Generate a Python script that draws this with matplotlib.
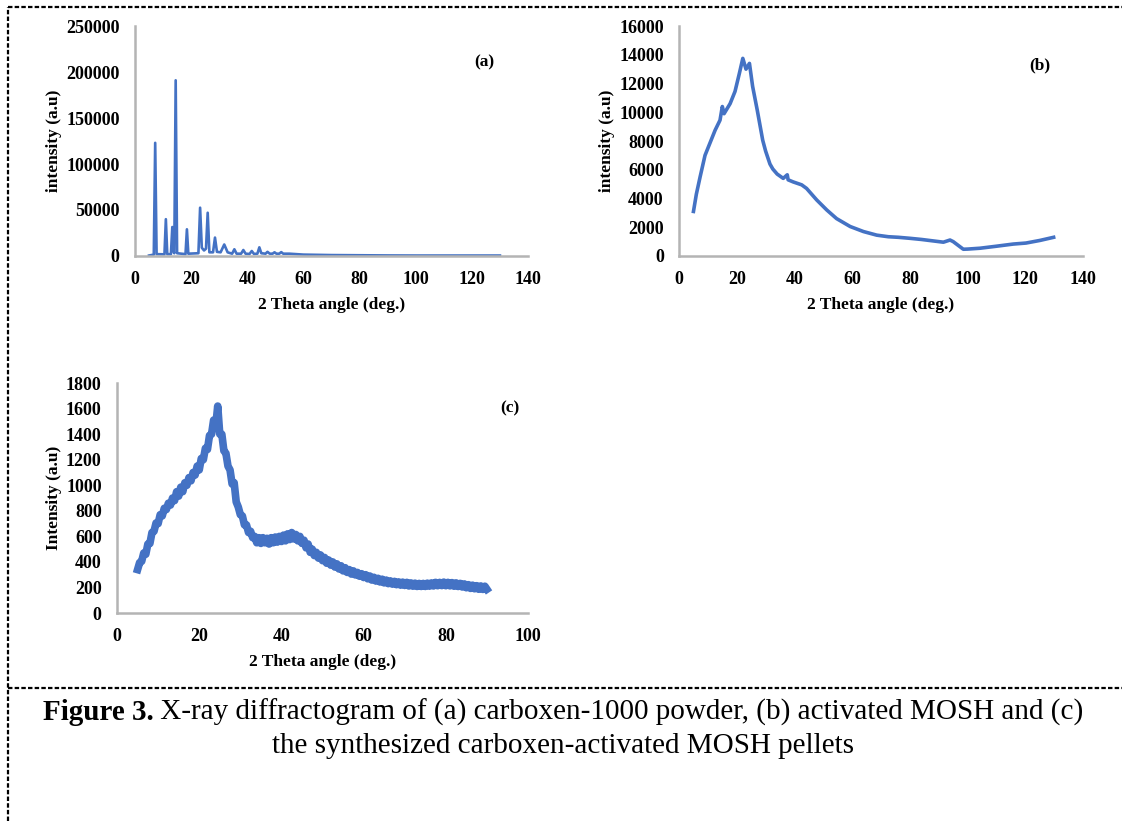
import matplotlib.pyplot as plt
from matplotlib.lines import Line2D

# (a) carboxen-1000 powder
x_a = [5, 6.7, 7.2, 7.7, 10.5, 11.0, 11.5, 12.8, 13.3, 13.8, 14.0, 14.5, 15.0,
       18.0, 18.5, 19.0, 22.6, 23.2, 23.8, 24.6, 25.3, 25.9, 26.5, 27.8, 28.5,
       29.2, 30.5, 31.8, 33.0, 34.6, 35.4, 36.2, 37.8, 38.6, 39.4, 40.8, 41.6,
       42.4, 43.6, 44.3, 45.0, 46.5, 47.2, 48.0, 49.0, 49.7, 50.4, 51.4, 52.1,
       52.8, 55, 60, 70, 80, 90, 100, 110, 120, 130]
y_a = [500, 1500, 123000, 2000, 1800, 40000, 2000, 2000, 31500, 4000, 3000, 191000, 3000,
       2000, 29000, 2500, 3000, 52500, 9000, 6000, 8000, 47000, 4000, 4000, 20000,
       4500, 4000, 12500, 4000, 2500, 7300, 2500, 2500, 6500, 2500, 2200, 5400,
       2200, 2500, 9400, 3000, 2500, 4500, 2500, 2500, 4000, 2500, 2500, 4200,
       2500, 2500, 1500, 1000, 800, 600, 500, 500, 500, 500]

# (b) activated MOSH
x_b = [5, 6, 7.3, 9, 10.7, 12.5, 14.2, 15.0, 15.6, 17.7, 19.4, 20.9, 22.1, 23.2,
       24.4, 25.5, 27.1, 29.0, 30.0, 31.5, 32.5, 34.0, 36.1, 37.5, 37.8, 39.6,
       42.5, 44.2, 47.7, 51.2, 54.6, 59.3, 63.9, 68.5, 72.5, 76, 80, 84, 88,
       91.6, 93.9, 95.0, 98.5, 100, 104.3, 110, 115.8, 120.2, 125, 129.8]
y_b = [3100, 4300, 5500, 7000, 7850, 8750, 9450, 10400, 9900, 10600, 11450, 12700, 13750, 13000,
       13400, 11800, 10150, 8050, 7300, 6400, 6050, 5700, 5400, 5650, 5300, 5150,
       4950, 4700, 3900, 3200, 2600, 2050, 1700, 1450, 1340, 1300, 1230, 1150, 1050,
       960, 1110, 1000, 470, 480, 540, 680, 830, 900, 1080, 1300]

# (c) carboxen-activated MOSH pellets
x_c = [5.0, 5.5, 6.0, 6.5, 7.0, 7.5, 8.0, 8.5, 9.0, 9.5, 10.0, 10.5, 11.0, 11.5, 12.0, 12.5,
       13.0, 13.5, 14.0, 14.5, 15.0, 15.5, 16.0, 16.5, 17.0, 17.5, 18.0, 18.5, 19.0, 19.5,
       20.0, 20.5, 21.0, 21.5, 22.0, 22.5, 23.0, 23.5, 24.0, 24.5, 25.0, 25.5, 26.0, 26.5,
       27.0, 27.5, 28.0, 28.5, 29.0, 29.5, 30.0, 30.5, 31.0, 31.5, 32.0, 32.5, 33.0, 33.5,
       34.0, 34.5, 35.0, 35.5, 36.0, 36.5, 37.0, 37.5, 38.0, 38.5, 39.0, 39.5, 40.0, 40.5,
       41.0, 41.5, 42.0, 42.5, 43.0, 43.5, 44.0, 44.5, 45.0, 45.5, 46.0, 46.5, 47.0, 47.5,
       48.0, 48.5, 49.0, 49.5, 50.0, 50.5, 51.0, 51.5, 52.0, 52.5, 53.0, 53.5, 54.0, 54.5,
       55.0, 55.5, 56.0, 56.5, 57.0, 57.5, 58.0, 58.5, 59.0, 59.5, 60.0, 60.5, 61.0, 61.5,
       62.0, 62.5, 63.0, 63.5, 64.0, 64.5, 65.0, 65.5, 66.0, 66.5, 67.0, 67.5, 68.0, 68.5,
       69.0, 69.5, 70.0, 70.5, 71.0, 71.5, 72.0, 72.5, 73.0, 73.5, 74.0, 74.5, 75.0, 75.5,
       76.0, 76.5, 77.0, 77.5, 78.0, 78.5, 79.0, 79.5, 80.0, 80.5, 81.0, 81.5, 82.0, 82.5,
       83.0, 83.5, 84.0, 84.5, 85.0, 85.5, 86.0, 86.5, 87.0, 87.5, 88.0, 88.5, 89.0, 89.5,
       90.0]
y_c = [340, 395, 405, 470, 460, 540, 545, 630, 640, 705, 700, 770, 760, 820, 810, 860,
       845, 900, 880, 950, 915, 985, 950, 1020, 1000, 1060, 1035, 1100, 1080, 1150,
       1120, 1210, 1200, 1290, 1280, 1390, 1400, 1510, 1460, 1620, 1400, 1400, 1270, 1250,
       1150, 1120, 1010, 1020, 870, 830, 770, 760, 690, 690, 630, 640, 590, 600,
       550, 590, 545, 590, 550, 585, 540, 590, 550, 595, 555, 600, 560, 610,
       565, 620, 575, 630, 580, 615, 565, 600, 545, 570, 510, 540, 475, 500,
       450, 475, 430, 455, 410, 435, 390, 415, 375, 400, 360, 385, 345, 370,
       330, 355, 318, 340, 305, 330, 298, 318, 288, 308, 278, 300, 268, 290,
       258, 280, 250, 272, 243, 265, 236, 258, 230, 252, 226, 248, 222, 244,
       218, 242, 216, 240, 212, 236, 210, 234, 208, 232, 208, 232, 208, 234,
       210, 236, 212, 240, 214, 240, 215, 242, 214, 240, 213, 238, 210, 236,
       208, 232, 204, 228, 198, 222, 193, 218, 190, 214, 186, 212, 185, 210,
       186]

panels = [
    dict(x=x_a, y=y_a, rect=[0.1203, 0.6882, 0.3503, 0.2801], xmax=140, ymax=250000, ystep=50000,
         ylabel='intensity (a.u)', tag='(a)', tagpos=(0.89, 0.84), lw=1.9),
    dict(x=x_b, y=y_b, rect=[0.6052, 0.6882, 0.3601, 0.2801], xmax=140, ymax=16000, ystep=2000,
         ylabel='intensity (a.u)', tag='(b)', tagpos=(0.892, 0.83), lw=2.6),
    dict(x=x_c, y=y_c, rect=[0.1043, 0.2533, 0.3663, 0.2801], xmax=100, ymax=1800, ystep=200,
         ylabel='Intensity (a.u)', tag='(c)', tagpos=(0.955, 0.89), lw=5.5),
]

serif = 'Liberation Serif'
fig = plt.figure(figsize=(11.22, 8.21), dpi=100)

for p in panels:
    ax = fig.add_axes(p['rect'])
    ax.plot(p['x'], p['y'], color='#4472C4', lw=p['lw'], solid_joinstyle='round')
    ax.set_xlim(0, p['xmax'])
    ax.set_ylim(0, p['ymax'])
    ax.set_xticks(range(0, p['xmax'] + 1, 20))
    ax.set_yticks(range(0, p['ymax'] + 1, p['ystep']))
    for s in ['top', 'right']:
        ax.spines[s].set_visible(False)
    for s in ['left', 'bottom']:
        ax.spines[s].set_color('#B4B4B4')
        ax.spines[s].set_linewidth(1.8)
    ax.tick_params(length=0, pad=11)
    for lab in ax.get_xticklabels() + ax.get_yticklabels():
        lab.set_fontfamily(serif)
        lab.set_fontweight('bold')
        lab.set_fontsize(13)
    ax.set_xlabel('2 Theta angle (deg.)', family=serif, weight='bold', fontsize=12.5, labelpad=6)
    ax.set_ylabel(p['ylabel'], family=serif, weight='bold', fontsize=12.5, labelpad=3)
    ax.text(p['tagpos'][0], p['tagpos'][1], p['tag'], transform=ax.transAxes,
            family=serif, weight='bold', fontsize=12.5, ha='center', va='center')

# dashed frame
dash = dict(color='black', lw=1.6, ls=(0, (2, 1)), transform=fig.transFigure)
fig.add_artist(Line2D([8 / 1122, 8 / 1122], [0, 1 - 7 / 821], **dash))
fig.add_artist(Line2D([8 / 1122, 1], [1 - 7 / 821, 1 - 7 / 821], **dash))
fig.add_artist(Line2D([8 / 1122, 1], [1 - 688 / 821, 1 - 688 / 821], **dash))

# caption
cap_bold = 'Figure 3.'
cap_rest = ' X-ray diffractogram of (a) carboxen-1000 powder, (b) activated MOSH and (c)'
cap_line2 = 'the synthesized carboxen-activated MOSH pellets'
cx = 563 / 1122
y1 = 1 - 712 / 821
y2 = 1 - 746 / 821
t1 = fig.text(0, y1, cap_bold, family=serif, weight='bold', fontsize=21, va='center')
t2 = fig.text(0, y1, cap_rest, family=serif, fontsize=21, va='center')
fig.text(cx, y2, cap_line2, family=serif, fontsize=21, va='center', ha='center')
r = fig.canvas.get_renderer()
w1 = t1.get_window_extent(r).width / 1122
w2 = t2.get_window_extent(r).width / 1122
x0 = cx - (w1 + w2) / 2
t1.set_x(x0)
t2.set_x(x0 + w1)

fig.savefig('out.png', dpi=100)
